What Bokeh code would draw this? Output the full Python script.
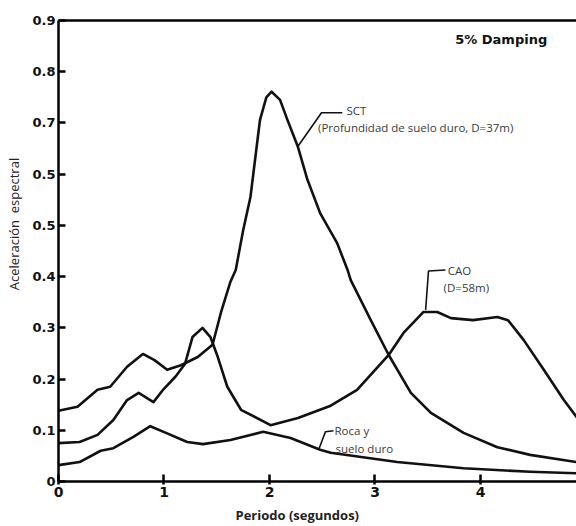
from bokeh.plotting import figure
from bokeh.models import Range1d, LinearAxis, FixedTicker, Label
from bokeh.embed import file_html
from bokeh.resources import INLINE

# ---- data ----
periods_sct = [0.0, 0.18, 0.37, 0.49, 0.65, 0.80, 0.91, 1.03, 1.16, 1.32, 1.46, 1.54, 1.63,
               1.68, 1.75, 1.82, 1.89, 1.91, 1.97, 2.02, 2.10, 2.17, 2.27, 2.36, 2.48, 2.64,
               2.74, 2.77, 2.96, 3.13, 3.34, 3.53, 3.84, 4.16, 4.47, 4.91]
accel_sct = [0.138, 0.146, 0.179, 0.185, 0.224, 0.249, 0.237, 0.218, 0.227, 0.243, 0.267, 0.330, 0.390,
             0.413, 0.490, 0.556, 0.673, 0.706, 0.750, 0.761, 0.745, 0.706, 0.653, 0.589, 0.524, 0.466,
             0.413, 0.393, 0.315, 0.247, 0.173, 0.134, 0.095, 0.067, 0.052, 0.038]

periods_cao = [0.0, 0.20, 0.37, 0.52, 0.65, 0.76, 0.90, 0.995, 1.11, 1.20, 1.27, 1.365, 1.44,
               1.51, 1.60, 1.73, 2.01, 2.27, 2.58, 2.83, 3.13, 3.27, 3.46, 3.59, 3.72, 3.93,
               4.16, 4.26, 4.41, 4.60, 4.79, 4.91]
accel_cao = [0.075, 0.077, 0.091, 0.120, 0.159, 0.173, 0.155, 0.180, 0.205, 0.230, 0.282, 0.300, 0.282,
             0.243, 0.185, 0.140, 0.110, 0.124, 0.148, 0.179, 0.247, 0.290, 0.331, 0.331, 0.319, 0.315,
             0.321, 0.315, 0.276, 0.218, 0.159, 0.126]

periods_roca = [0.0, 0.20, 0.40, 0.52, 0.71, 0.87, 1.03, 1.22, 1.37, 1.63, 1.94, 2.20, 2.48,
                2.58, 3.21, 3.84, 4.47, 4.91]
accel_roca = [0.032, 0.038, 0.060, 0.065, 0.087, 0.108, 0.094, 0.077, 0.073, 0.081, 0.097, 0.085, 0.062,
              0.056, 0.038, 0.026, 0.019, 0.016]

x_ticks = [0, 1, 2, 3, 4, 5]
y_ticks = [0.0, 0.1, 0.2, 0.3, 0.4, 0.5, 0.6, 0.7, 0.8, 0.9]
y_tick_labels = ["0", "0.1", "0.2", "0.3", "0.4", "0.5", "0.5", "0.7", "0.8", "0.9"]

NBSP = "\u00a0"

p = figure(width=576, height=526, x_range=Range1d(0, 4.91), y_range=Range1d(0, 0.9),
           output_backend="svg", toolbar_location=None,
           min_border_left=58, min_border_right=0, min_border_top=20, min_border_bottom=44)
p.grid.visible = False
p.outline_line_color = None
p.background_fill_color = "white"
p.border_fill_color = "white"

tick_font = "DejaVu Sans"

p.xaxis.ticker = FixedTicker(ticks=x_ticks)
p.xaxis.axis_line_width = 2.5
p.xaxis.major_tick_line_width = 2.5
p.xaxis.major_tick_in = 7
p.xaxis.major_tick_out = 3
p.xaxis.minor_tick_line_color = None
p.xaxis.major_label_text_font = tick_font
p.xaxis.major_label_text_font_style = "bold"
p.xaxis.major_label_text_font_size = "14px"
p.xaxis.major_label_text_color = "#111111"
p.xaxis.major_label_standoff = 2
p.xaxis.axis_label = "Periodo (segundos)" + NBSP * 12
p.xaxis.axis_label_text_font = "Open Sans"
p.xaxis.axis_label_text_font_style = "bold"
p.xaxis.axis_label_text_font_size = "13px"
p.xaxis.axis_label_text_color = "#222222"
p.xaxis.axis_label_standoff = 6

p.yaxis.ticker = FixedTicker(ticks=y_ticks)
p.yaxis.major_label_overrides = {t: s for t, s in zip(y_ticks, y_tick_labels)}
p.yaxis.axis_line_width = 2.5
p.yaxis.major_tick_line_width = 2.5
p.yaxis.major_tick_in = 7
p.yaxis.major_tick_out = 0
p.yaxis.minor_tick_line_color = None
p.yaxis.major_label_text_font = tick_font
p.yaxis.major_label_text_font_style = "bold"
p.yaxis.major_label_text_font_size = "13px"
p.yaxis.major_label_text_color = "#111111"
p.yaxis.major_label_standoff = 3
p.yaxis.axis_label = NBSP * 16 + "Aceleración" + NBSP * 2 + "espectral"
p.yaxis.axis_label_text_font = "Open Sans"
p.yaxis.axis_label_text_font_style = "normal"
p.yaxis.axis_label_text_font_size = "13px"
p.yaxis.axis_label_text_color = "#222222"
p.yaxis.axis_label_standoff = 6

top = LinearAxis(ticker=FixedTicker(ticks=[]), axis_line_width=2.5,
                 major_label_text_font_size="0px", major_tick_line_color=None,
                 minor_tick_line_color=None)
p.add_layout(top, "above")

for xs, ys in [(periods_sct, accel_sct), (periods_cao, accel_cao), (periods_roca, accel_roca)]:
    p.line(xs, ys, line_color="#111111", line_width=2.6, line_join="round", line_cap="round")

# leader lines for annotations
leaders = [
    ([2.265, 2.493, 2.69], [0.653, 0.72, 0.72]),
    ([3.48, 3.507, 3.668], [0.335, 0.411, 0.413]),
    ([2.465, 2.53, 2.607], [0.0615, 0.097, 0.099]),
]
for lx, ly in leaders:
    p.line(lx, ly, line_color="#111111", line_width=1.6)

ann_font = "Open Sans"
ann_color = "#3a3a3a"
texts = [
    (2.73, 0.725, "SCT"),
    (2.46, 0.692, "(Profundidad de suelo duro, D=37m)"),
    (3.69, 0.411, "CAO"),
    (3.65, 0.378, "(D=58m)"),
    (2.616, 0.099, "Roca y"),
    (2.626, 0.065, "suelo duro"),
]
for tx, ty, s in texts:
    p.add_layout(Label(x=tx, y=ty, text=s, text_font=ann_font, text_font_size="11.5px",
                       text_color=ann_color, text_baseline="middle", text_align="left"))

p.add_layout(Label(x=3.76, y=0.862, text="5% Damping", text_font="DejaVu Sans",
                   text_font_style="bold", text_font_size="13px", text_color="#111111",
                   text_baseline="middle", text_align="left"))

open("out.html", "w").write(file_html(p, INLINE))
